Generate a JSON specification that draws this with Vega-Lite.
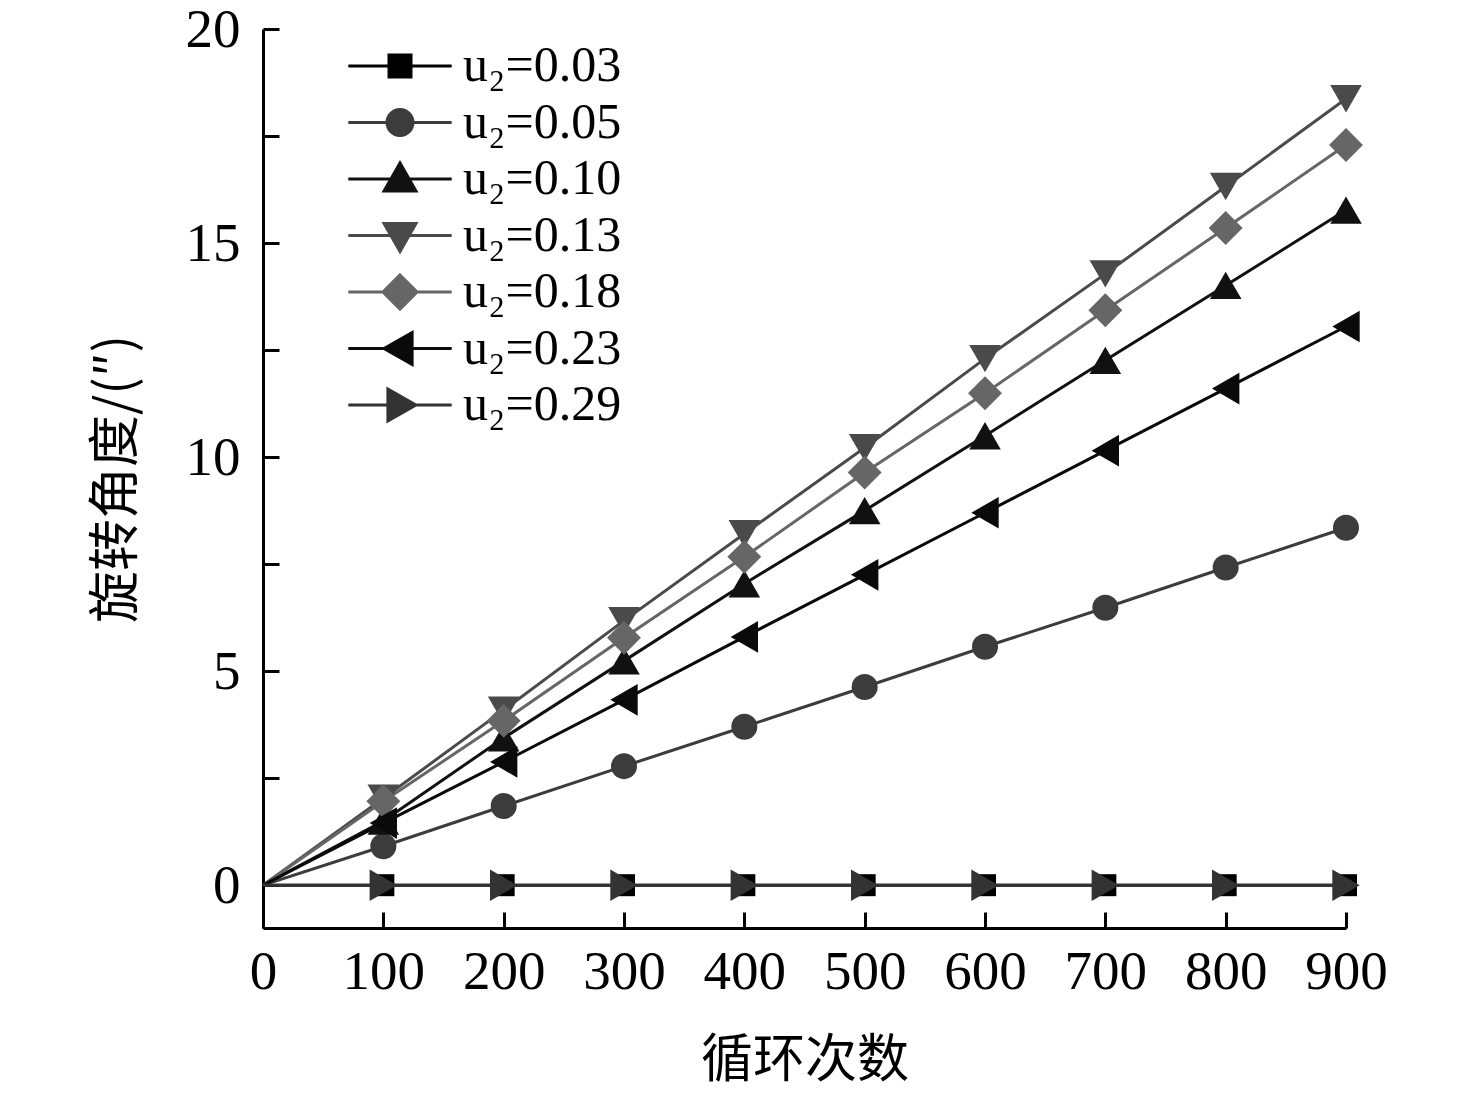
{
  "$schema": "https://vega.github.io/schema/vega-lite/v6.json",
  "width": 1083,
  "height": 899,
  "autosize": {"type": "none"},
  "padding": {"left": 263, "top": 29, "right": 130, "bottom": 168},
  "background": "white",
  "config": {
    "view": {"stroke": null},
    "axis": {
      "grid": false,
      "domainColor": "black",
      "domainWidth": 3,
      "tickColor": "black",
      "tickWidth": 3,
      "tickSize": -16,
      "labelColor": "black",
      "labelFont": "Liberation Serif",
      "labelFontSize": 55,
      "labelFlush": false,
      "labelOverlap": false,
      "titleColor": "black",
      "titleFont": "Noto Sans CJK SC",
      "titleFontSize": 52,
      "titleFontWeight": "normal"
    }
  },
  "data": {
    "values": [
      {"cycle": 0, "u2": "0.03", "angle": 0},
      {"cycle": 100, "u2": "0.03", "angle": 0},
      {"cycle": 200, "u2": "0.03", "angle": 0},
      {"cycle": 300, "u2": "0.03", "angle": 0},
      {"cycle": 400, "u2": "0.03", "angle": 0},
      {"cycle": 500, "u2": "0.03", "angle": 0},
      {"cycle": 600, "u2": "0.03", "angle": 0},
      {"cycle": 700, "u2": "0.03", "angle": 0},
      {"cycle": 800, "u2": "0.03", "angle": 0},
      {"cycle": 900, "u2": "0.03", "angle": 0},
      {"cycle": 0, "u2": "0.05", "angle": 0},
      {"cycle": 100, "u2": "0.05", "angle": 0.91},
      {"cycle": 200, "u2": "0.05", "angle": 1.85},
      {"cycle": 300, "u2": "0.05", "angle": 2.78},
      {"cycle": 400, "u2": "0.05", "angle": 3.70},
      {"cycle": 500, "u2": "0.05", "angle": 4.63},
      {"cycle": 600, "u2": "0.05", "angle": 5.57},
      {"cycle": 700, "u2": "0.05", "angle": 6.48},
      {"cycle": 800, "u2": "0.05", "angle": 7.42},
      {"cycle": 900, "u2": "0.05", "angle": 8.35},
      {"cycle": 0, "u2": "0.10", "angle": 0},
      {"cycle": 100, "u2": "0.10", "angle": 1.50},
      {"cycle": 200, "u2": "0.10", "angle": 3.44},
      {"cycle": 300, "u2": "0.10", "angle": 5.24},
      {"cycle": 400, "u2": "0.10", "angle": 7.04},
      {"cycle": 500, "u2": "0.10", "angle": 8.75},
      {"cycle": 600, "u2": "0.10", "angle": 10.50},
      {"cycle": 700, "u2": "0.10", "angle": 12.26},
      {"cycle": 800, "u2": "0.10", "angle": 14.01},
      {"cycle": 900, "u2": "0.10", "angle": 15.77},
      {"cycle": 0, "u2": "0.13", "angle": 0},
      {"cycle": 100, "u2": "0.13", "angle": 2.03},
      {"cycle": 200, "u2": "0.13", "angle": 4.09},
      {"cycle": 300, "u2": "0.13", "angle": 6.18},
      {"cycle": 400, "u2": "0.13", "angle": 8.21},
      {"cycle": 500, "u2": "0.13", "angle": 10.22},
      {"cycle": 600, "u2": "0.13", "angle": 12.30},
      {"cycle": 700, "u2": "0.13", "angle": 14.28},
      {"cycle": 800, "u2": "0.13", "angle": 16.32},
      {"cycle": 900, "u2": "0.13", "angle": 18.37},
      {"cycle": 0, "u2": "0.18", "angle": 0},
      {"cycle": 100, "u2": "0.18", "angle": 1.96},
      {"cycle": 200, "u2": "0.18", "angle": 3.84},
      {"cycle": 300, "u2": "0.18", "angle": 5.78},
      {"cycle": 400, "u2": "0.18", "angle": 7.67},
      {"cycle": 500, "u2": "0.18", "angle": 9.64},
      {"cycle": 600, "u2": "0.18", "angle": 11.49},
      {"cycle": 700, "u2": "0.18", "angle": 13.43},
      {"cycle": 800, "u2": "0.18", "angle": 15.35},
      {"cycle": 900, "u2": "0.18", "angle": 17.29},
      {"cycle": 0, "u2": "0.23", "angle": 0},
      {"cycle": 100, "u2": "0.23", "angle": 1.45},
      {"cycle": 200, "u2": "0.23", "angle": 2.88},
      {"cycle": 300, "u2": "0.23", "angle": 4.33},
      {"cycle": 400, "u2": "0.23", "angle": 5.80},
      {"cycle": 500, "u2": "0.23", "angle": 7.25},
      {"cycle": 600, "u2": "0.23", "angle": 8.70},
      {"cycle": 700, "u2": "0.23", "angle": 10.15},
      {"cycle": 800, "u2": "0.23", "angle": 11.60},
      {"cycle": 900, "u2": "0.23", "angle": 13.05},
      {"cycle": 0, "u2": "0.29", "angle": 0},
      {"cycle": 100, "u2": "0.29", "angle": 0},
      {"cycle": 200, "u2": "0.29", "angle": 0},
      {"cycle": 300, "u2": "0.29", "angle": 0},
      {"cycle": 400, "u2": "0.29", "angle": 0},
      {"cycle": 500, "u2": "0.29", "angle": 0},
      {"cycle": 600, "u2": "0.29", "angle": 0},
      {"cycle": 700, "u2": "0.29", "angle": 0},
      {"cycle": 800, "u2": "0.29", "angle": 0},
      {"cycle": 900, "u2": "0.29", "angle": 0}
    ]
  },
  "encoding": {
    "x": {
      "field": "cycle",
      "type": "quantitative",
      "scale": {"domain": [0, 900], "nice": false},
      "axis": {
        "title": "循环次数",
        "values": [0, 100, 200, 300, 400, 500, 600, 700, 800, 900],
        "labelPadding": 33,
        "titlePadding": 36
      }
    },
    "y": {
      "field": "angle",
      "type": "quantitative",
      "scale": {"domain": [-1, 20], "nice": false, "zero": false},
      "axis": {
        "title": "旋转角度/(″)",
        "values": [0, 2.5, 5, 7.5, 10, 12.5, 15, 17.5, 20],
        "labelExpr": "datum.value % 5 === 0 ? datum.label : ''",
        "labelPadding": 39,
        "titlePadding": 42
      }
    }
  },
  "layer": [
    {
      "mark": {"type": "line", "strokeWidth": 3},
      "encoding": {
        "color": {
          "field": "u2",
          "type": "nominal",
          "scale": {
            "domain": ["0.29", "0.23", "0.18", "0.13", "0.10", "0.05", "0.03"],
            "range": ["#333333", "#0a0a0a", "#666666", "#4a4a4a", "#111111", "#3c3c3c", "#000000"]
          },
          "legend": null
        }
      }
    },
    {
      "transform": [{"filter": "datum.u2 === '0.03' && datum.cycle > 0"}],
      "mark": {"type": "point", "shape": "square", "filled": true, "size": 484, "color": "#000000", "opacity": 1}
    },
    {
      "transform": [{"filter": "datum.u2 === '0.05' && datum.cycle > 0"}],
      "mark": {"type": "point", "shape": "circle", "filled": true, "size": 676, "color": "#3c3c3c", "opacity": 1}
    },
    {
      "transform": [{"filter": "datum.u2 === '0.10' && datum.cycle > 0"}],
      "mark": {"type": "point", "shape": "triangle-up", "filled": true, "size": 1000, "color": "#111111", "opacity": 1}
    },
    {
      "transform": [{"filter": "datum.u2 === '0.13' && datum.cycle > 0"}],
      "mark": {"type": "point", "shape": "triangle-down", "filled": true, "size": 1000, "color": "#4a4a4a", "opacity": 1}
    },
    {
      "transform": [{"filter": "datum.u2 === '0.18' && datum.cycle > 0"}],
      "mark": {"type": "point", "shape": "diamond", "filled": true, "size": 1150, "color": "#666666", "opacity": 1}
    },
    {
      "transform": [{"filter": "datum.u2 === '0.23' && datum.cycle > 0"}],
      "mark": {"type": "point", "shape": "triangle-left", "filled": true, "size": 1000, "color": "#0a0a0a", "opacity": 1}
    },
    {
      "transform": [{"filter": "datum.u2 === '0.29' && datum.cycle > 0"}],
      "mark": {"type": "point", "shape": "triangle-right", "filled": true, "size": 1000, "color": "#333333", "opacity": 1}
    },
    {
      "transform": [{"filter": "datum.cycle < 0"}],
      "mark": {"type": "point", "filled": true, "opacity": 1},
      "encoding": {
        "fill": {
          "field": "u2",
          "type": "nominal",
          "scale": {
            "domain": ["0.03", "0.05", "0.10", "0.13", "0.18", "0.23", "0.29"],
            "range": ["#000000", "#3c3c3c", "#111111", "#4a4a4a", "#666666", "#0a0a0a", "#333333"]
          },
          "legend": {"title": null}
        },
        "stroke": {
          "field": "u2",
          "type": "nominal",
          "scale": {
            "domain": ["0.03", "0.05", "0.10", "0.13", "0.18", "0.23", "0.29"],
            "range": ["#000000", "#3c3c3c", "#111111", "#4a4a4a", "#666666", "#0a0a0a", "#333333"]
          },
          "legend": {"title": null}
        },
        "shape": {
          "field": "u2",
          "type": "nominal",
          "scale": {
            "domain": ["0.03", "0.05", "0.10", "0.13", "0.18", "0.23", "0.29"],
            "range": [
              "M-4.7,0H4.7M-1,-1H1V1H-1Z",
              "M-4.7,0H4.7M-1.18,0A1.18,1.18,0,1,0,1.18,0A1.18,1.18,0,1,0,-1.18,0Z",
              "M-4.7,0H4.7M0,-1.45L1.45,1.1L-1.45,1.1Z",
              "M-4.7,0H4.7M0,1.45L1.45,-1.1L-1.45,-1.1Z",
              "M-4.7,0H4.7M0,-1.55L1.55,0L0,1.55L-1.55,0Z",
              "M-4.7,0H4.7M-1.45,0L1.1,-1.45L1.1,1.45Z",
              "M-4.7,0H4.7M1.45,0L-1.1,-1.45L-1.1,1.45Z"
            ]
          },
          "legend": {
            "orient": "none",
            "legendX": 112,
            "legendY": 12,
            "padding": 0,
            "title": null,
            "labelExpr": "'u₂=' + datum.label",
            "labelFont": "Liberation Serif",
            "labelFontSize": 50,
            "labelColor": "black",
            "labelOffset": 38,
            "rowPadding": 6.5,
            "symbolSize": 484,
            "symbolStrokeWidth": 3,
            "symbolOpacity": 1
          }
        }
      }
    }
  ]
}
